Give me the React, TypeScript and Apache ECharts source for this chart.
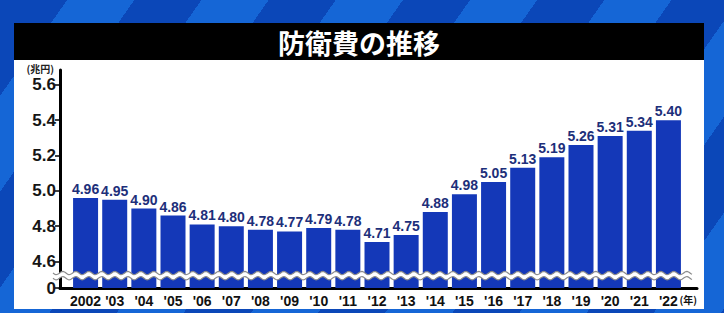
import React, { useEffect, useRef } from "react";
import * as echarts from "echarts";

const title = "防衛費の推移";
const yUnit = "(兆円)";
const xUnit = "(年)";
const years = ["2002", "'03", "'04", "'05", "'06", "'07", "'08", "'09", "'10", "'11", "'12", "'13", "'14", "'15", "'16", "'17", "'18", "'19", "'20", "'21", "'22"];
const spending = [4.96, 4.95, 4.9, 4.86, 4.81, 4.8, 4.78, 4.77, 4.79, 4.78, 4.71, 4.75, 4.88, 4.98, 5.05, 5.13, 5.19, 5.26, 5.31, 5.34, 5.4];
const yTickValues = [4.45, 4.6, 4.8, 5.0, 5.2, 5.4, 5.6];
const yTickLabels = ["0", "4.6", "4.8", "5.0", "5.2", "5.4", "5.6"];
const breakValue = [4.52];

const Y_MIN = 4.45;
const Y_MAX = 5.684;
const SANS = "'Liberation Sans', Arial, sans-serif";

export default function App() {
  const ref = useRef<HTMLDivElement>(null);
  useEffect(() => {
    document.body.style.margin = "0";
    const chart = echarts.init(ref.current!, null, { renderer: "svg" });
    const option: any = {
      animation: false,
      graphic: [
        { type: "rect", z: 0, shape: { x: 14, y: 60, width: 690, height: 249 }, style: { fill: "#ffffff" } },
        { type: "rect", z: 0, shape: { x: 14, y: 23, width: 690, height: 37 }, style: { fill: "#000000" } },
        {
          type: "text", z: 1, x: 359, y: 42,
          style: {
            text: title, fill: "#ffffff", font: "bold 27px 'Noto Sans CJK JP', sans-serif",
            align: "center", verticalAlign: "middle",
          },
        },
      ],
      grid: [
        { left: 71, right: 41, top: 70, bottom: 25 },
        { left: 60, right: 27, top: 70, bottom: 25 },
      ],
      xAxis: [
        {
          type: "category", gridIndex: 0, data: years,
          axisLine: { show: false }, axisTick: { show: false },
          axisLabel: { interval: 0, color: "#111", fontSize: 14, fontWeight: "bold", fontFamily: SANS, margin: 6 },
        },
        {
          type: "value", gridIndex: 1, min: 0, max: 1,
          axisLine: { show: true, onZero: false, lineStyle: { color: "#000", width: 3 } },
          axisTick: { show: false }, axisLabel: { show: false }, splitLine: { show: false },
          name: xUnit, nameLocation: "end", nameGap: 0,
          nameTextStyle: { align: "right", verticalAlign: "top", padding: [7, 0, 0, 0], fontSize: 10, fontWeight: "bold", color: "#111", fontFamily: "'Noto Sans CJK JP', sans-serif" },
        },
      ],
      yAxis: [
        { type: "value", gridIndex: 0, min: Y_MIN, max: Y_MAX, show: false },
        {
          type: "value", gridIndex: 1, min: Y_MIN, max: Y_MAX,
          axisLine: { show: true, lineStyle: { color: "#000", width: 3 } },
          axisTick: { show: true, customValues: yTickValues, length: 5, lineStyle: { color: "#000", width: 1.5 } },
          axisLabel: {
            customValues: yTickValues, margin: 4, color: "#151515", fontSize: 17, fontWeight: "bold",
            fontFamily: SANS,
            formatter: (v: number) => {
              const i = yTickValues.findIndex((t) => Math.abs(t - v) < 1e-6);
              return i >= 0 ? yTickLabels[i] : "";
            },
          },
          splitLine: { show: false },
          name: yUnit, nameLocation: "end", nameGap: -3,
          nameTextStyle: { align: "right", padding: [0, 6, 0, 0], fontSize: 10, fontWeight: "bold", color: "#222", fontFamily: "'Noto Sans CJK JP', sans-serif" },
        },
      ],
      series: [
        {
          type: "bar", xAxisIndex: 0, yAxisIndex: 0, data: spending, barWidth: 25,
          itemStyle: { color: "#1438b8" },
          label: {
            show: true, position: "top", distance: 2, color: "#1d2f7a", fontSize: 14, fontWeight: "bold",
            fontFamily: SANS, formatter: (p: any) => Number(p.value).toFixed(2),
          },
        },
        {
          type: "custom", xAxisIndex: 1, yAxisIndex: 1, z: 10, silent: true,
          data: breakValue.map((v) => [0, v]),
          renderItem: (params: any, api: any) => {
            const cs = params.coordSys;
            const yc = api.coord([0, api.value(1)])[1];
            const x0 = cs.x - 7;
            const x1 = cs.x + cs.width - 5;
            const period = 13;
            const amp = 1.6;
            const half = 2.6;
            const top: number[][] = [];
            const bot: number[][] = [];
            for (let x = x0; x <= x1; x += 1) {
              const s = Math.sin(((x - x0) / period) * Math.PI * 2) * amp;
              top.push([x, yc - half + s]);
              bot.push([x, yc + half + s]);
            }
            return {
              type: "group",
              children: [
                { type: "polygon", shape: { points: top.concat(bot.slice().reverse()) }, style: { fill: "#ffffff", stroke: null } },
                { type: "polyline", shape: { points: top }, style: { stroke: "#8c8c8c", lineWidth: 1.2, fill: null } },
                { type: "polyline", shape: { points: bot }, style: { stroke: "#8c8c8c", lineWidth: 1.2, fill: null } },
              ],
            };
          },
        },
      ],
    };
    chart.setOption(option);
    return () => chart.dispose();
  }, []);
  return (
    <div
      ref={ref}
      style={{
        position: "fixed", left: 0, top: 0, width: 724, height: 313,
        background: "repeating-linear-gradient(125deg, #0b47b8 0px, #0b47b8 55px, #1566d6 55px, #1566d6 110px)",
      }}
    />
  );
}
